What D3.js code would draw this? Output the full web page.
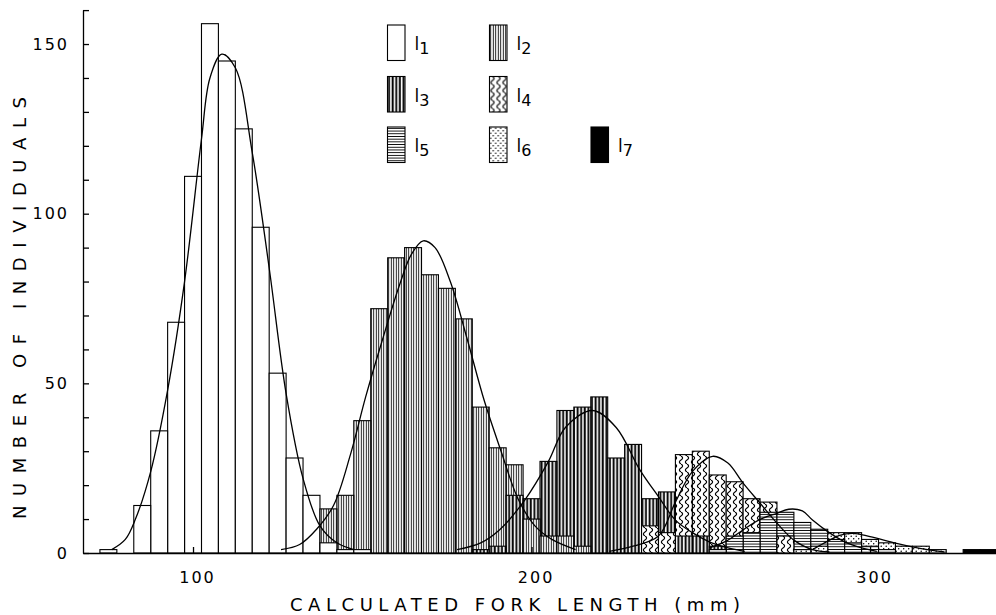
<!DOCTYPE html>
<html><head><meta charset="utf-8">
<script src="https://cdn.jsdelivr.net/npm/d3@7"></script>
<style>
body{margin:0;background:#fff}
svg{display:block}
text{font-family:"DejaVu Sans",sans-serif;fill:#000}
</style>
</head><body>
<svg id="chart" width="996" height="615"></svg>
<script>
// Length-frequency of back-calculated fork lengths, 5 mm classes (class mid-points in mm)
const cohortNames = ["1", "2", "3", "4", "5", "6", "7"];
const firstClass = [75, 140, 185, 235, 255, 280, 330];
const counts1 = [1, 0, 14, 36, 68, 111, 156, 145, 125, 96, 53, 28, 17, 3, 1, 1];
const counts2 = [13, 17, 39, 72, 87, 90, 82, 78, 69, 43, 31, 26, 10, 5, 5, 2];
const counts3 = [1, 2, 17, 16, 27, 42, 43, 46, 28, 32, 16, 18, 5, 5, 2];
const counts4 = [8, 6, 29, 30, 23, 21, 16, 15, 5];
const counts5 = [1, 5, 6, 12, 12, 9, 7, 4, 3, 2, 1];
const counts6 = [1, 2, 6, 6, 4, 3, 2, 2, 1];
const counts7 = [1, 1];
const allCounts = [counts1, counts2, counts3, counts4, counts5, counts6, counts7];

// Fitted frequency curves, [length mm, number]
const curve1 = [[76,1],[80,4],[83,10],[87.5,24],[92.5,48],[97.5,80],[102.5,122],[105,140],[108.5,147],[112.5,143],[117.5,118],[122.5,84],[127.5,47],[132.5,22],[137.5,8],[142.5,3],[147.5,1]];
const curve2 = [[126,1],[131.5,2.5],[136.5,7],[141.5,14],[146.5,29],[151,46],[156,63],[161,79],[164.5,88],[168,92],[171.5,90],[176,80],[181,63],[186,45],[191,30],[196,16],[201,8],[206,4],[213,1]];
const curve3 = [[178,1],[185,3],[190.5,6.8],[198,15.6],[205,27],[210,37],[218,42],[225,37],[232,24.5],[237.5,16.6],[242.5,9.7],[247.5,6],[252.5,3.3],[258,1.5],[263,0.5]];
const curve4 = [[223,0.5],[230,2],[237.5,5],[242.5,15],[247.5,24],[253.5,28.5],[258,26.5],[262.5,20.6],[267.5,14.7],[272.5,8.8],[277.5,3.8],[283,1],[288,0.3]];
const curve5 = [[252.5,1.5],[257.5,3.5],[262.5,6.8],[267.5,9.9],[272.5,11.7],[276,12.9],[280,12.4],[283,9.7],[287.5,6.3],[292.5,3.3],[297.5,1.5],[302,0.5]];
const curve6 = [[283,1],[287.5,3.5],[291,5.2],[295,5.8],[300,4.8],[307.5,2.9],[312.5,1.8],[317.5,0.9],[322,0.3]];
const curves = [curve1, curve2, curve3, curve4, curve5, curve6];

const yTicks = d3.range(0, 161, 10);
const yLabels = [0, 50, 100, 150];
const xTicks = [100, 200, 300];

const svg = d3.select("#chart");
const x = d3.scaleLinear().domain([67.5, 337.5]).range([83, 997]);
const y = d3.scaleLinear().domain([0, 160]).range([553, 10.1]);

// Fill patterns for the seven groups
const defs = svg.append("defs");
function pat(id, w, h, draw) {
  const p = defs.append("pattern").attr("id", id).attr("patternUnits", "userSpaceOnUse")
    .attr("width", w).attr("height", h);
  p.append("rect").attr("width", w).attr("height", h).attr("fill", "#fff");
  draw(p);
}
pat("p2", 2.5, 10, p => p.append("rect").attr("x", 0.8).attr("width", 0.9).attr("height", 10).attr("fill", "#000"));
pat("p3", 3.6, 10, p => p.append("rect").attr("x", 0.6).attr("width", 1.9).attr("height", 10).attr("fill", "#000"));
pat("p4", 6, 8, p => p.append("path").attr("d", "M3,0 Q6.2,2 3,4 Q-0.2,6 3,8").attr("fill", "none").attr("stroke", "#000").attr("stroke-width", 1.2));
pat("p5", 10, 2.7, p => p.append("rect").attr("y", 0.9).attr("width", 10).attr("height", 0.9).attr("fill", "#000"));
pat("p6", 5, 5, p => {
  p.append("circle").attr("cx", 1.2).attr("cy", 1.2).attr("r", 0.75).attr("fill", "#000");
  p.append("circle").attr("cx", 3.7).attr("cy", 3.7).attr("r", 0.75).attr("fill", "#000");
});
const fills = ["#fff", "url(#p2)", "url(#p3)", "url(#p4)", "url(#p5)", "url(#p6)", "#000"];

// Bars: overlapping classes drawn largest first so smaller counts sit in front
const bars = [];
allCounts.forEach((arr, g) => arr.forEach((v, i) => {
  if (v > 0) bars.push({g, mid: firstClass[g] + 5 * i, v});
}));
bars.sort((a, b) => b.v - a.v);
svg.append("g").selectAll("rect").data(bars).join("rect")
  .attr("x", d => x(d.mid - 2.5)).attr("width", d => x(d.mid + 2.5) - x(d.mid - 2.5))
  .attr("y", d => y(d.v)).attr("height", d => y(0) - y(d.v))
  .attr("fill", d => fills[d.g]).attr("stroke", "#000").attr("stroke-width", 1.1);

// Fitted curves
const line = d3.line().x(d => x(d[0])).y(d => y(d[1])).curve(d3.curveCatmullRom.alpha(0.5));
svg.append("g").selectAll("path").data(curves).join("path")
  .attr("d", line).attr("fill", "none").attr("stroke", "#000").attr("stroke-width", 1.3);

// Axes
const yAxis = svg.append("g").attr("transform", "translate(83,0)")
  .call(d3.axisLeft(y).tickValues(yTicks).tickSize(-6).tickSizeOuter(0).tickPadding(14)
    .tickFormat(d => yLabels.includes(d) ? d : ""));
const xAxis = svg.append("g").attr("transform", `translate(0,${y(0)})`)
  .call(d3.axisBottom(x).tickValues(xTicks).tickSize(-6).tickSizeOuter(0).tickPadding(19));
[yAxis, xAxis].forEach(a => {
  a.selectAll("path,line").attr("stroke", "#000").attr("stroke-width", 1.3);
  a.selectAll("text").attr("font-size", 16).attr("letter-spacing", 2).attr("fill", "#000");
});
xAxis.selectAll("text").attr("dx", 4);

// Axis titles
svg.append("text").attr("x", 515).attr("y", 611).attr("text-anchor", "middle")
  .attr("font-size", 18).attr("textLength", 450).attr("lengthAdjust", "spacing")
  .text("CALCULATED FORK LENGTH (mm)");
svg.append("text").attr("transform", "translate(26,308) rotate(-90)").attr("text-anchor", "middle")
  .attr("font-size", 18).attr("textLength", 422).attr("lengthAdjust", "spacing")
  .text("NUMBER OF INDIVIDUALS");

// Legend
const legX = [387.5, 489.5, 387.5, 489.5, 387.5, 489.5, 591];
const legY = [25, 25, 76.5, 76.5, 127, 127, 127];
const leg = svg.append("g").selectAll("g").data(cohortNames).join("g")
  .attr("transform", (d, i) => `translate(${legX[i]},${legY[i]})`);
leg.append("rect").attr("width", 17.5).attr("height", 35.5)
  .attr("fill", (d, i) => fills[i]).attr("stroke", "#000").attr("stroke-width", 1.1);
const lt = leg.append("text").attr("x", 27).attr("y", 25).attr("font-size", 17);
lt.append("tspan").text("l");
lt.append("tspan").attr("dy", 4).attr("font-size", 16).text(d => d);
</script>
</body></html>
